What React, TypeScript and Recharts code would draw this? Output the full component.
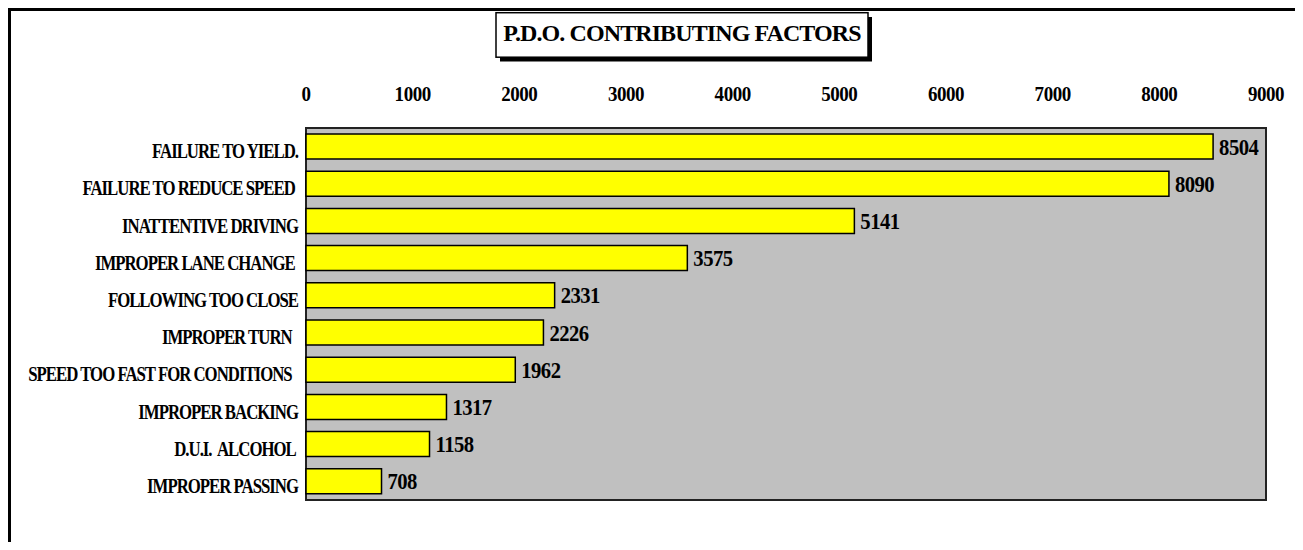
import React from 'react';
import { BarChart, Bar, XAxis, YAxis, CartesianGrid, ReferenceArea, LabelList } from 'recharts';

const categories = [
  'FAILURE TO YIELD.',
  'FAILURE TO REDUCE SPEED ',
  'INATTENTIVE DRIVING',
  'IMPROPER LANE CHANGE ',
  'FOLLOWING TOO CLOSE',
  'IMPROPER TURN  ',
  'SPEED TOO FAST FOR CONDITIONS  ',
  'IMPROPER BACKING',
  'D.U.I.  ALCOHOL ',
  'IMPROPER PASSING',
];
const values = [8504, 8090, 5141, 3575, 2331, 2226, 1962, 1317, 1158, 708];
const xTicks = [0, 1000, 2000, 3000, 4000, 5000, 6000, 7000, 8000, 9000];
const title = 'P.D.O. CONTRIBUTING FACTORS';

const data = categories.map((name, i) => ({ name, value: values[i] }));

const FONT = '"Liberation Serif", "Times New Roman", serif';

const W = 1294;
const H = 534;

const XTick = (props: any) => {
  const { x, y, payload } = props;
  return (
    <text
      transform={`translate(${x},${y - 27}) scale(0.95,1)`}
      textAnchor="middle"
      fontFamily={FONT}
      fontWeight="bold"
      fontSize={20}
      letterSpacing={-0.5}
      fill="#000"
    >
      {payload.value}
    </text>
  );
};

const YTick = (props: any) => {
  const { x, y, payload } = props;
  return (
    <text
      transform={`translate(${x - 8},${y + 11.5}) scale(0.84,1)`}
      textAnchor="end"
      fontFamily={FONT}
      fontWeight="bold"
      fontSize={20}
      letterSpacing={-1.2}
      fill="#000"
      xmlSpace="preserve"
      style={{ whiteSpace: 'pre' }}
    >
      {payload.value}
    </text>
  );
};

const ValueLabel = (props: any) => {
  const { x, y, width, height, value } = props;
  const tx = Number(x) + Number(width) + 6;
  const ty = Number(y) + Number(height) / 2 + 8;
  return (
    <text
      transform={`translate(${tx},${ty}) scale(0.92,1)`}
      textAnchor="start"
      fontFamily={FONT}
      fontWeight="bold"
      fontSize={22.5}
      letterSpacing={-0.6}
      fill="#000"
    >
      {value}
    </text>
  );
};

export default function App() {
  return (
    <div style={{ position: 'relative', width: W, height: H, background: '#fff' }}>
      <BarChart
        width={W}
        height={H}
        data={data}
        layout="vertical"
        margin={{ top: 80, right: 36, bottom: 42, left: 0 }}
        barSize={25}
      >
        <CartesianGrid horizontal={false} vertical={false} fill="#C0C0C0" stroke="none" />
        <XAxis
          type="number"
          orientation="top"
          domain={[0, 9000]}
          ticks={xTicks}
          height={40}
          axisLine={false}
          tickLine={false}
          tickSize={0}
          tickMargin={0}
          tick={XTick}
          interval={0}
        />
        <YAxis
          type="category"
          dataKey="name"
          width={298}
          axisLine={false}
          tickLine={false}
          tickSize={0}
          tickMargin={0}
          tick={YTick}
          interval={0}
        />
        <Bar dataKey="value" fill="#FFFF00" stroke="#000" strokeWidth={1.5} isAnimationActive={false}>
          <LabelList dataKey="value" content={ValueLabel} />
        </Bar>
        <ReferenceArea x1={0} x2={9000} fill="none" stroke="#222" strokeWidth={2} ifOverflow="visible" />
      </BarChart>
      <svg
        width={W}
        height={H}
        style={{ position: 'absolute', left: 0, top: 0, pointerEvents: 'none' }}
      >
        <line x1={0} y1={1.5} x2={W} y2={1.5} stroke="#000" strokeWidth={3} />
        <line x1={1.5} y1={0} x2={1.5} y2={H} stroke="#000" strokeWidth={3} />
        <line x1={W - 0.5} y1={0} x2={W - 0.5} y2={H} stroke="#d0d0d0" strokeWidth={1} />
        <rect x={492} y={9} width={372} height={44.5} fill="#000" />
        <rect x={488} y={4.7} width={372} height={44.5} fill="#fff" stroke="#000" strokeWidth={1.5} />
        <text
          transform={`translate(674,32.7) scale(1,1)`}
          textAnchor="middle"
          fontFamily={FONT}
          fontWeight="bold"
          fontSize={24}
          letterSpacing={-0.9}
          fill="#000"
        >
          {title}
        </text>
      </svg>
    </div>
  );
}
